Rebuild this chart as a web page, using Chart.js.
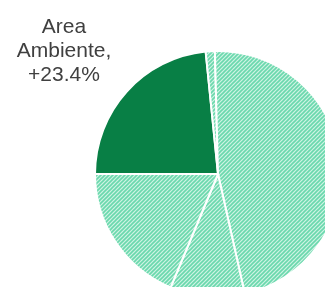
<!DOCTYPE html>
<html>
<head>
<meta charset="utf-8">
<script src="https://cdn.jsdelivr.net/npm/chart.js@4.4.0/dist/chart.umd.min.js"></script>
<style>
    html, body { margin: 0; padding: 0; background: #fff; }
    #wrap { width: 325px; height: 287px; position: relative; overflow: hidden; }
</style>
</head>
<body>
<div id="wrap"><canvas id="pieChart" width="325" height="287"></canvas></div>
<script>
// --- DATA ---
const sliceLabels = ['Area Ambiente', 'Altro', 'Settore A', 'Settore B', 'Settore C'];
const sliceValues = [23.4, 1.2, 46.9, 9.8, 18.7];
const calloutLines = ['Area', 'Ambiente,', '+23.4%'];

// hatched fill for the light slices
function makeHatch() {
    const c = document.createElement('canvas');
    c.width = 4; c.height = 4;
    const g = c.getContext('2d');
    g.fillStyle = '#cff3e3';
    g.fillRect(0, 0, 4, 4);
    g.strokeStyle = '#6ad8ad';
    g.lineWidth = 1.6;
    g.beginPath();
    g.moveTo(-1, 5); g.lineTo(5, -1);
    g.moveTo(-1, 1); g.lineTo(1, -1);
    g.moveTo(3, 5); g.lineTo(5, 3);
    g.stroke();
    return g.createPattern(c, 'repeat');
}

const hatch = makeHatch();
const sliceColors = ['#087f45', hatch, hatch, hatch, hatch];

// draws the callout text at top left
const calloutPlugin = {
    id: 'callout',
    afterDraw(chart) {
        const ctx = chart.ctx;
        ctx.save();
        ctx.fillStyle = '#404040';
        ctx.font = '21px "Liberation Sans", Arial, sans-serif';
        ctx.textAlign = 'center';
        ctx.textBaseline = 'alphabetic';
        calloutLines.forEach((t, i) => ctx.fillText(t, 64, 33 + i * 24));
        ctx.restore();
    }
};

window.onload = () => {
    const ctx = document.getElementById('pieChart').getContext('2d');
    new Chart(ctx, {
        type: 'pie',
        data: {
            labels: sliceLabels,
            datasets: [{
                data: sliceValues,
                backgroundColor: sliceColors,
                borderColor: '#ffffff',
                borderWidth: 2,
                clip: false
            }]
        },
        options: {
            responsive: false,
            animation: false,
            rotation: 270,
            radius: 123,
            layout: { padding: { left: 111, right: 0, top: 61, bottom: 0 } },
            plugins: {
                legend: { display: false },
                tooltip: { enabled: false }
            }
        },
        plugins: [calloutPlugin]
    });
};
</script>
</body>
</html>
